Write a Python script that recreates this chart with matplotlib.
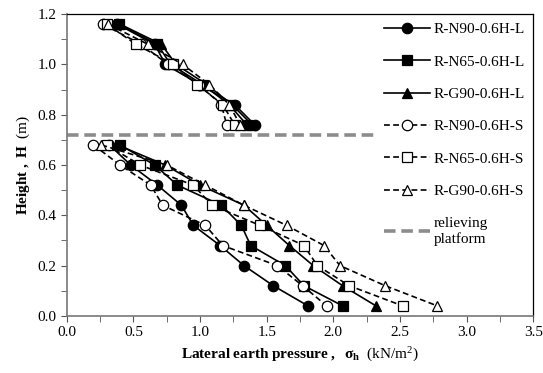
import matplotlib
matplotlib.use("Agg")
import matplotlib.pyplot as plt
from matplotlib.ticker import MultipleLocator, FormatStrFormatter

plt.rcParams['font.family'] = ['Liberation Serif', 'DejaVu Serif']
plt.rcParams['mathtext.fontset'] = 'custom'
plt.rcParams['mathtext.rm'] = 'Liberation Serif'
plt.rcParams['mathtext.bf'] = 'Liberation Serif:bold'
plt.rcParams['mathtext.it'] = 'Liberation Serif:italic'

# heights above / below the relieving platform (m)
h_upper = [1.16, 1.08, 1.00, 0.92, 0.84, 0.76]
h_lower = [0.68, 0.60, 0.52, 0.44, 0.36, 0.28, 0.20, 0.12, 0.04]
platform_h = 0.72

# lateral earth pressure (kN/m2)
n90_l_up = [0.38, 0.66, 0.74, 1.00, 1.26, 1.41]
n65_l_up = [0.39, 0.68, 0.78, 1.02, 1.22, 1.35]
g90_l_up = [0.40, 0.71, 0.82, 1.05, 1.24, 1.39]
n90_s_up = [0.27, 0.56, 0.76, 0.99, 1.16, 1.20]
n65_s_up = [0.30, 0.52, 0.80, 0.98, 1.17, 1.26]
g90_s_up = [0.31, 0.61, 0.87, 1.07, 1.22, 1.30]

n90_l_lo = [0.32, 0.48, 0.68, 0.86, 0.95, 1.15, 1.33, 1.55, 1.81]
n65_l_lo = [0.40, 0.66, 0.83, 1.16, 1.31, 1.38, 1.64, 1.78, 2.07]
g90_l_lo = [0.38, 0.74, 1.00, 1.33, 1.50, 1.67, 1.85, 2.07, 2.32]
n90_s_lo = [0.20, 0.40, 0.63, 0.72, 1.04, 1.17, 1.58, 1.77, 1.95]
n65_s_lo = [0.30, 0.55, 0.95, 1.09, 1.45, 1.78, 1.88, 2.12, 2.52]
g90_s_lo = [0.26, 0.75, 1.04, 1.33, 1.65, 1.93, 2.05, 2.39, 2.78]

labels = ['R-N90-0.6H-L', 'R-N65-0.6H-L', 'R-G90-0.6H-L',
          'R-N90-0.6H-S', 'R-N65-0.6H-S', 'R-G90-0.6H-S']
platform_label = 'relieving\nplatform'

series = [
    (n90_l_up, n90_l_lo, 'o', '-', 'black'),
    (n65_l_up, n65_l_lo, 's', '-', 'black'),
    (g90_l_up, g90_l_lo, '^', '-', 'black'),
    (n90_s_up, n90_s_lo, 'o', '--', 'white'),
    (n65_s_up, n65_s_lo, 's', '--', 'white'),
    (g90_s_up, g90_s_lo, '^', '--', 'white'),
]

fig = plt.figure(figsize=(5.43, 3.73), dpi=100)
ax = fig.add_axes([0.123, 0.153, 0.859, 0.809])

plat, = ax.plot([0, 3.5], [platform_h, platform_h], color='#8c8c8c', lw=2.6,
                ls=(0, (3.2, 1.6)), zorder=1)

handles = []
for (up, lo, mk, ls, fc), lab in zip(series, labels):
    kw = dict(color='black', lw=1.2, marker=mk, markersize=7.5,
              markerfacecolor=fc, markeredgecolor='black', markeredgewidth=0.9)
    if ls == '--':
        kw['dashes'] = (3.5, 2.0)
    line, = ax.plot(lo, h_lower, **kw)
    ax.plot(up, h_upper, **kw)
    handles.append(line)

leg = ax.legend(handles + [plat], labels + [platform_label], loc='upper right',
                bbox_to_anchor=(1.0, 1.0), borderaxespad=0.0,
                fontsize=11, frameon=True, facecolor='white', edgecolor='none',
                framealpha=1, handlelength=3.0, handletextpad=0.25,
                labelspacing=1.22, borderpad=0.55, fancybox=False)
leg.set_zorder(5)

ax.set_xlim(0, 3.5)
ax.set_ylim(0, 1.2)
ax.xaxis.set_major_locator(MultipleLocator(0.5))
ax.xaxis.set_minor_locator(MultipleLocator(0.25))
ax.yaxis.set_major_locator(MultipleLocator(0.2))
ax.yaxis.set_minor_locator(MultipleLocator(0.1))
ax.xaxis.set_major_formatter(FormatStrFormatter('%.1f'))
ax.yaxis.set_major_formatter(FormatStrFormatter('%.1f'))
ax.tick_params(which='both', direction='out', length=4, color='#555555',
               labelsize=11)
ax.tick_params(axis='x', pad=3)

for s in ['left', 'bottom']:
    ax.spines[s].set_color('#777777')
    ax.spines[s].set_linewidth(1.2)
for s in ['top', 'right']:
    ax.spines[s].set_color('black')
    ax.spines[s].set_linewidth(0.9)
for s in ax.spines.values():
    s.set_zorder(6)

ax.set_xlabel(r'$\mathbf{Lateral\ earth\ pressure\ ,\ \ \sigma_h}$  (kN/m$^2$)',
              fontsize=11, labelpad=5)
ax.set_ylabel(r'$\mathbf{Height\ ,\ H}$  (m)', fontsize=11, labelpad=4)

fig.savefig('out.png', dpi=100)
